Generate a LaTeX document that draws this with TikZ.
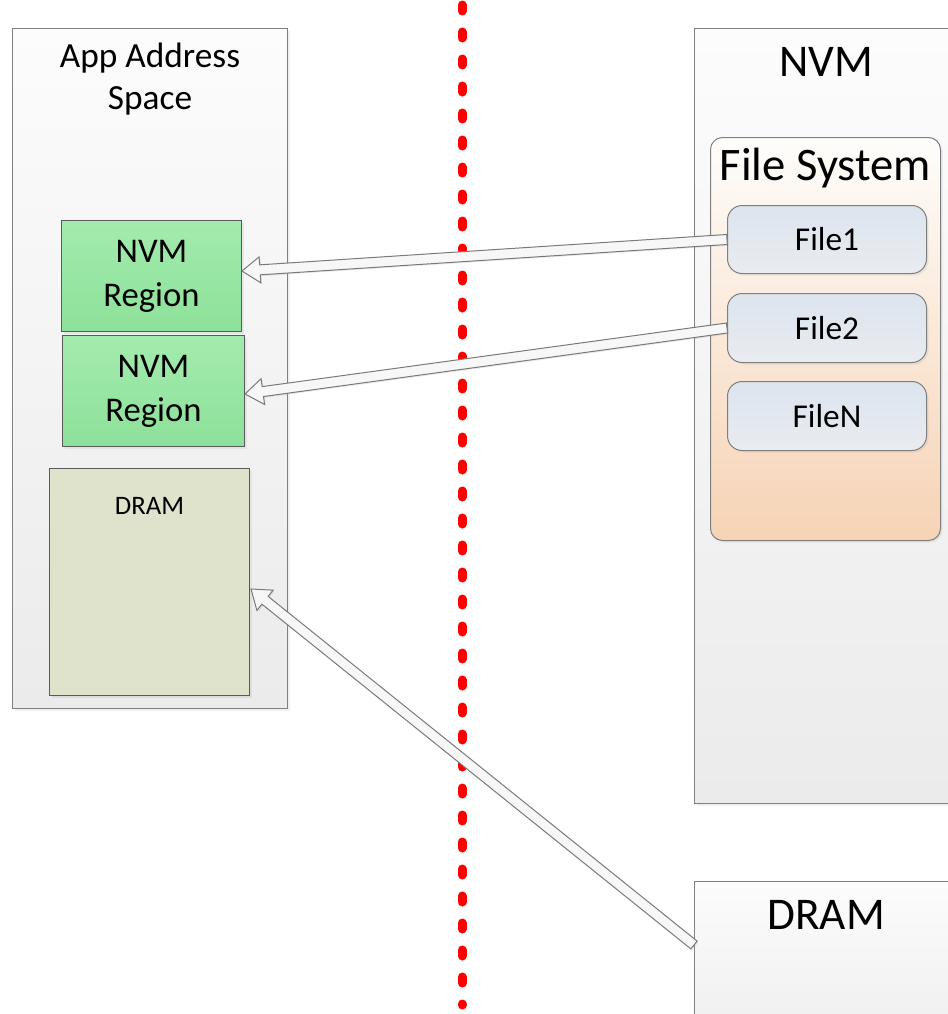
\documentclass[tikz,border=0pt]{standalone}
\usepackage{fontspec}
\setmainfont{Carlito}
\usetikzlibrary{calc,shadows}
\definecolor{boxline}{HTML}{7F7F7F}
\definecolor{outtop}{HTML}{FCFCFC}
\definecolor{outbot}{HTML}{EBEBEB}
\definecolor{gtop}{HTML}{A3EBAD}
\definecolor{gbot}{HTML}{8DE19A}
\definecolor{darkline}{HTML}{5A5A5A}
\definecolor{dramfill}{HTML}{DFE3CB}
\definecolor{fstop}{HTML}{FEFDFB}
\definecolor{fsbot}{HTML}{F6D3B5}
\definecolor{filetop}{HTML}{DCE4EE}
\definecolor{filebot}{HTML}{E9ECF0}
\definecolor{arrowfill}{HTML}{F7F7F7}
\definecolor{arrowline}{HTML}{7A7A7A}
\definecolor{dotred}{HTML}{FF0000}
\def\u{0.75pt}
\newcommand\hollowarrow[2]{%
  \coordinate (ha-n) at ($(#2)!13.5pt!(#1)$);
  \draw[harrow] ($(#1)!3.75pt!90:(#2)$) -- ($(ha-n)!3.75pt!-90:(#1)$)
    -- ($(ha-n)!9.75pt!-90:(#1)$) -- (#2) -- ($(ha-n)!9.75pt!90:(#1)$)
    -- ($(ha-n)!3.75pt!90:(#1)$) -- ($(#1)!3.75pt!-90:(#2)$) -- cycle;}
\begin{document}
\begin{tikzpicture}[x=0.75pt,y=-0.75pt,
  base/.style={inner sep=0pt, anchor=north west, line width=0.75pt},
  outer/.style={base, draw=boxline, top color=outtop, bottom color=outbot,
    drop shadow={opacity=0.12, shadow xshift=1.5pt, shadow yshift=-1.5pt}},
  nvmreg/.style={base, draw=darkline, top color=gtop, bottom color=gbot,
    align=center, font=\fontsize{26}{33}\selectfont,
    drop shadow={opacity=0.12, shadow xshift=1.5pt, shadow yshift=-1.5pt}},
  dramreg/.style={base, draw=darkline, fill=dramfill,
    drop shadow={opacity=0.12, shadow xshift=1.5pt, shadow yshift=-1.5pt}},
  fsbox/.style={base, draw=boxline, rounded corners=9pt, top color=fstop, bottom color=fsbot,
    drop shadow={opacity=0.12, shadow xshift=1.5pt, shadow yshift=-1.5pt}},
  filebox/.style={base, draw=boxline, rounded corners=11pt, top color=filetop, bottom color=filebot,
    font=\fontsize{25}{30}\selectfont,
    drop shadow={opacity=0.12, shadow xshift=1.5pt, shadow yshift=-1.5pt}},
  bigtitle/.style={inner sep=0pt, font=\fontsize{34}{40}\selectfont},
  harrow/.style={draw=arrowline, fill=arrowfill, line width=0.75pt, line join=miter,
    drop shadow={opacity=0.15, shadow xshift=1pt, shadow yshift=-1pt}},
  redline/.style={draw=dotred, line width=6.75pt, line cap=round, dash pattern=on 4.5pt off 15.75pt}
]
\useasboundingbox (0,0) rectangle (948,1014);

% left: application address space
\node[outer, minimum width=275*\u, minimum height=680*\u] (app) at (12,28) {};
\node[inner sep=0pt, align=center, font=\fontsize{26.5}{31.5}\selectfont] (apptext)
  at ($(app.north)+(0,51)$) {App Address\\Space};
\node[nvmreg, minimum width=180*\u, minimum height=111*\u] (r1) at (61,220) {NVM\\Region};
\node[nvmreg, minimum width=182*\u, minimum height=111*\u] (r2) at (62,335) {NVM\\Region};
\node[dramreg, minimum width=200*\u, minimum height=227*\u] (dl) at (49,468) {};
\node[inner sep=0pt, font=\fontsize{20}{24}\selectfont] (dltext) at ($(dl.north)+(0,38)$) {DRAM};

% right: NVM
\node[outer, minimum width=300*\u, minimum height=775*\u] (nvm) at (694,28) {};
\node[bigtitle] (nvmtext) at ($(nvm.north west)+(132,34)$) {NVM};
\node[fsbox, minimum width=230*\u, minimum height=403*\u] (fs) at (710,137) {};
\node[bigtitle, font=\fontsize{35}{40}\selectfont] (fstext) at ($(fs.north)+(0,31)$) {File System};
\node[filebox, minimum width=199*\u, minimum height=68*\u] (f1) at (727,205) {File1};
\node[filebox, minimum width=199*\u, minimum height=69*\u] (f2) at (727,293) {File2};
\node[filebox, minimum width=199*\u, minimum height=69*\u] (fn) at (727,381) {FileN};

% right: DRAM
\node[outer, minimum width=300*\u, minimum height=200*\u] (dr) at (694,881) {};
\node[bigtitle] (drtext) at ($(dr.north west)+(132,34)$) {DRAM};

% red divider
\coordinate (rtop) at (462,5);
\coordinate (rbot) at (462,1005);
\draw[redline] (rtop) -- (rbot);

% hollow arrows
\coordinate (a1s) at (f1.west);
\coordinate (a1e) at ($(r1.east)+(0,-5)$);
\hollowarrow{a1s}{a1e}
\coordinate (a2s) at (f2.west);
\coordinate (a2e) at ($(r2.east)+(0,3)$);
\hollowarrow{a2s}{a2e}
\coordinate (a3s) at ($(dr.north west)+(0,64)$);
\coordinate (a3e) at ($(dl.east)+(1,7)$);
\hollowarrow{a3s}{a3e}
\end{tikzpicture}
\end{document}
